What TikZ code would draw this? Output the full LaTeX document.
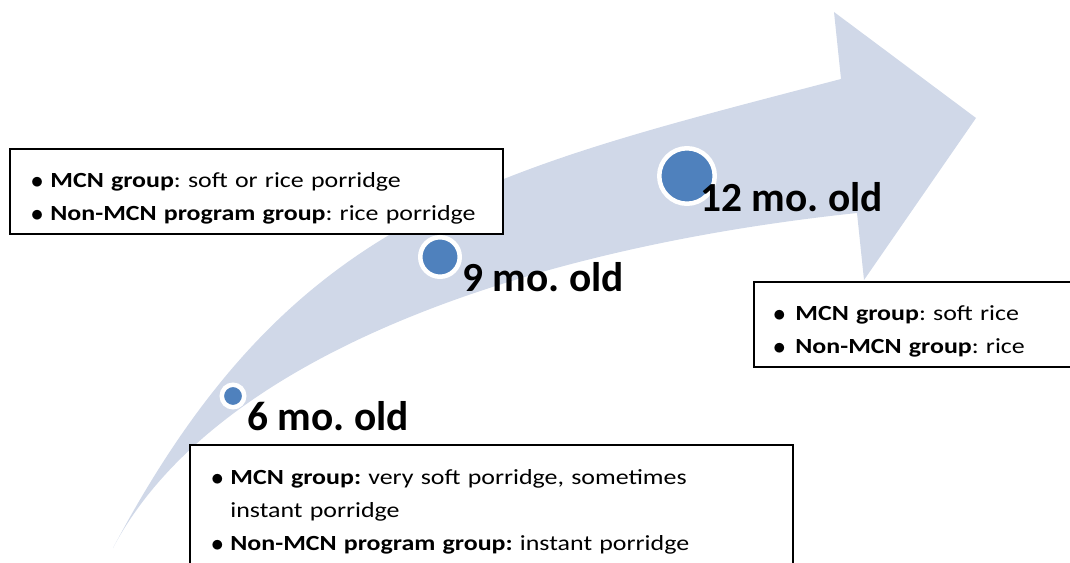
\documentclass[tikz,border=0pt]{standalone}
\usepackage{fontspec}
\setmainfont{Carlito}
\newfontfamily\boxfont[FakeStretch=1.2]{Carlito}
\usepackage{tikz}
\usetikzlibrary{positioning}
\frenchspacing
\definecolor{bandblue}{HTML}{D0D8E8}
\definecolor{dotblue}{HTML}{4F81BD}
\newcommand{\itm}[1][8.5pt]{\makebox[#1][l]{\hspace*{-1.2pt}\raisebox{-0.4pt}{\scalebox{1.15}{$\bullet$}}}}
\tikzset{
	age dot/.style={circle,fill=dotblue,draw=white,line width=2.25pt,inner sep=0pt,minimum size=#1},
	age label/.style={anchor=base west,inner sep=0pt,font=\fontsize{20.7}{25}\selectfont\bfseries},
	diet box/.style={draw=black,fill=white,line width=1pt,inner sep=0pt,outer sep=0pt,anchor=north west},
	diet text/.style={inner sep=0pt,align=left,font=\boxfont\fontsize{10.8}{16.5}\selectfont}
}

\begin{document}
\begin{tikzpicture}[x=0.5pt,y=0.5pt]
	\useasboundingbox (0,0) rectangle (1070,562);
	\clip (0,0) rectangle (1070,562);
	% the curved arrow
	\fill[bandblue] (113,14) .. controls (290,347) and (481,389) .. (841,483)
		-- (834,550) -- (976,444) -- (864,282) -- (857,349)
		.. controls (527,314) and (215,207) .. (113,14) -- cycle;
	% text boxes
	\node[diet box,minimum width=246.5pt,minimum height=42.5pt] (box9) at (10,413) {};
	\node[diet text,text width=240pt,below right=7.45pt and 11.5pt of box9.north west] (txt9)
		{\strut\itm\textbf{MCN group}: soft or rice porridge\\
		\itm\textbf{Non-MCN program group}: rice porridge};
	\node[diet box,minimum width=165pt,minimum height=42.5pt] (box12) at (754,280) {};
	\node[diet text,text width=150pt,below right=7.45pt and 10.5pt of box12.north west] (txt12)
		{\strut\itm[10pt]\textbf{MCN group}: soft rice\\
		\itm[10pt]\textbf{Non-MCN group}: rice};
	\node[diet box,minimum width=301.5pt,minimum height=70pt] (box6) at (190,117) {};
	\node[diet text,text width=290pt,below right=7.95pt and 11.5pt of box6.north west] (txt6)
		{\strut\itm\textbf{MCN group:} very soft porridge, sometimes\\
		\hspace*{8.5pt}instant porridge\\
		\itm\textbf{Non-MCN program group:} instant porridge};
	% ages
	\node[age dot=11.25pt] (dot6) at (233,166) {};
	\node[age dot=19.75pt] (dot9) at (440,305) {};
	\node[age dot=27.75pt] (dot12) at (687,386) {};
	\node[age label] (age6) at (247,131) {6 mo. old};
	\node[age label] (age9) at (462,270) {9 mo. old};
	\node[age label] (age12) at (700,350) {12 mo. old};
\end{tikzpicture}
\end{document}
